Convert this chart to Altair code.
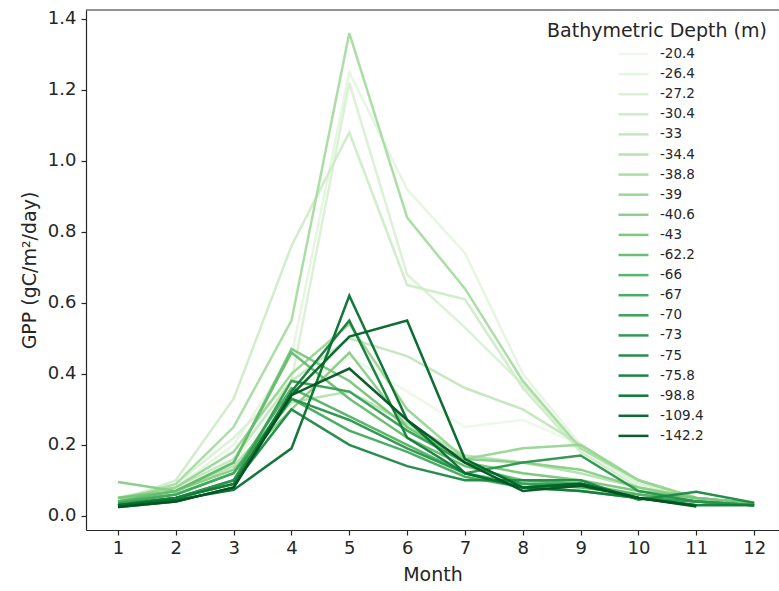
import altair as alt
import pandas as pd

months = [1, 2, 3, 4, 5, 6, 7, 8, 9, 10, 11, 12]

depths = ["-20.4", "-26.4", "-27.2", "-30.4", "-33", "-34.4", "-38.8", "-39",
          "-40.6", "-43", "-62.2", "-66", "-67", "-70", "-73", "-75", "-75.8",
          "-98.8", "-109.4", "-142.2"]

# sequential greens, light (shallow) to dark (deep)
greens = ["#ecf8e8", "#e5f5e0", "#daf0d4", "#cfecc8", "#c3e7bc", "#b5e1af", "#a7dca1",
          "#98d593", "#87cd86", "#77c578", "#64bc6e", "#52b365", "#40aa5c", "#359e53",
          "#2a924b", "#1e8742", "#117c38", "#05712f", "#006428", "#005422"]

# GPP (gC/m2/day) per month (None = no value)
gpp_20_4 = [0.040, 0.070, 0.150, 0.350, 0.450, 0.350, 0.250, 0.270, 0.200, 0.100, 0.050, 0.035]
gpp_26_4 = [0.040, 0.080, 0.200, 0.450, 1.250, 0.920, 0.740, 0.400, 0.200, 0.100, 0.050, 0.035]
gpp_27_2 = [0.050, 0.090, 0.220, 0.380, 1.220, 0.680, 0.530, 0.370, 0.190, 0.090, 0.050, 0.035]
gpp_30_4 = [0.040, 0.100, 0.330, 0.760, 1.080, 0.650, 0.610, 0.360, 0.180, 0.080, 0.045, 0.030]
gpp_33 = [0.050, 0.080, 0.160, 0.380, 0.500, 0.450, 0.360, 0.300, 0.200, 0.100, 0.050, 0.035]
gpp_34_4 = [0.040, 0.070, 0.140, 0.320, 0.350, 0.260, 0.170, 0.150, 0.120, 0.080, 0.050, 0.035]
gpp_38_8 = [0.040, 0.090, 0.250, 0.550, 1.360, 0.840, 0.640, 0.380, 0.190, 0.100, 0.050, 0.035]
gpp_39 = [0.050, 0.080, 0.180, 0.400, 0.540, 0.300, 0.160, 0.190, 0.200, 0.100, 0.050, 0.035]
gpp_40_6 = [0.095, 0.070, 0.130, 0.300, 0.460, 0.250, 0.160, 0.150, 0.130, 0.080, 0.050, 0.035]
gpp_43 = [0.050, 0.070, 0.150, 0.470, 0.380, 0.250, 0.150, 0.120, 0.100, 0.070, 0.050, 0.035]
gpp_62_2 = [0.040, 0.070, 0.150, 0.460, 0.330, 0.220, 0.140, 0.100, 0.090, 0.060, 0.040, 0.030]
gpp_66 = [0.040, 0.060, 0.120, 0.360, 0.280, 0.200, 0.120, 0.090, 0.080, 0.060, 0.040, 0.030]
gpp_67 = [0.035, 0.060, 0.120, 0.330, 0.240, 0.180, 0.110, 0.080, 0.070, 0.050, 0.040, 0.030]
gpp_70 = [0.035, 0.050, 0.100, 0.380, 0.350, 0.240, 0.150, 0.090, 0.090, 0.050, 0.040, 0.030]
gpp_73 = [0.030, 0.050, 0.100, 0.330, 0.270, 0.190, 0.120, 0.150, 0.170, 0.070, 0.040, 0.030]
gpp_75 = [0.030, 0.050, 0.090, 0.300, 0.200, 0.140, 0.100, 0.100, 0.100, 0.045, 0.068, 0.037]
gpp_75_8 = [0.030, 0.050, 0.090, 0.350, 0.550, 0.220, 0.120, 0.080, 0.070, 0.050, 0.030, 0.030]
gpp_98_8 = [0.030, 0.045, 0.073, 0.190, 0.620, 0.270, 0.120, 0.080, 0.090, 0.050, 0.030, None]
gpp_109_4 = [0.025, 0.040, 0.080, 0.340, 0.505, 0.550, 0.160, 0.080, 0.090, 0.050, 0.028, None]
gpp_142_2 = [0.025, 0.040, 0.080, 0.340, 0.415, 0.270, 0.150, 0.070, 0.085, 0.050, 0.026, None]

series = [gpp_20_4, gpp_26_4, gpp_27_2, gpp_30_4, gpp_33, gpp_34_4, gpp_38_8, gpp_39,
          gpp_40_6, gpp_43, gpp_62_2, gpp_66, gpp_67, gpp_70, gpp_73, gpp_75, gpp_75_8,
          gpp_98_8, gpp_109_4, gpp_142_2]

rows = []
for order, (d, vals) in enumerate(zip(depths, series)):
    for m, v in zip(months, vals):
        if v is not None:
            rows.append({"Month": m, "GPP": v, "Depth": d, "order": order})
df = pd.DataFrame(rows)

FONT = "DejaVu Sans"
INK = "#262626"
W, H = 693, 520

lines = alt.Chart(df).mark_line(strokeWidth=2.5, opacity=0.95).encode(
    x=alt.X("Month:Q",
            scale=alt.Scale(domain=[0.447, 12.43], nice=False, zero=False),
            axis=alt.Axis(values=months, format="d", title="Month", grid=False,
                          tickSize=5, labelPadding=4, titlePadding=8,
                          labelFontSize=18, titleFontSize=19, titleFontWeight="normal",
                          labelFont=FONT, titleFont=FONT, labelColor=INK, titleColor=INK,
                          domainColor=INK, tickColor=INK, domainWidth=1.2, tickWidth=1.2)),
    y=alt.Y("GPP:Q",
            scale=alt.Scale(domain=[-0.04, 1.425], nice=False, zero=False),
            axis=alt.Axis(values=[0, 0.2, 0.4, 0.6, 0.8, 1.0, 1.2, 1.4], format=".1f",
                          title="GPP (gC/m²/day)", grid=False,
                          tickSize=5, labelPadding=5, titlePadding=8,
                          labelFontSize=18, titleFontSize=19, titleFontWeight="normal",
                          labelFont=FONT, titleFont=FONT, labelColor=INK, titleColor=INK,
                          domainColor=INK, tickColor=INK, domainWidth=1.2, tickWidth=1.2)),
    color=alt.Color("Depth:N",
                    scale=alt.Scale(domain=depths, range=greens),
                    legend=alt.Legend(title="Bathymetric Depth (m)", orient="none",
                                      legendX=461, legendY=12,
                                      symbolType="stroke", symbolSize=900,
                                      symbolStrokeWidth=2.5, clipHeight=14,
                                      rowPadding=6.1, symbolOffset=70, labelOffset=10,
                                      titleFontSize=19, titleFontWeight="normal",
                                      titleFont=FONT, titleColor=INK, titlePadding=6,
                                      titleLimit=400, labelAlign="left",
                                      labelFontSize=13.5, labelFont=FONT, labelColor=INK,
                                      padding=0)),
    detail="order:O",
    order="Month:Q",
)

top_spine = alt.Chart(alt.Data(values=[{}])).mark_rule(color=INK, strokeWidth=1.2).encode(
    x=alt.value(0), x2=alt.value(W), y=alt.value(0)
)

chart = alt.layer(lines, top_spine).properties(
    width=W, height=H,
    autosize=alt.AutoSizeParams(type="none"),
    padding={"left": 86, "top": 10, "right": 0, "bottom": 61},
    background="white",
).configure_view(stroke=None)

chart.save("out.html", embed_options={"renderer": "svg", "actions": False})
